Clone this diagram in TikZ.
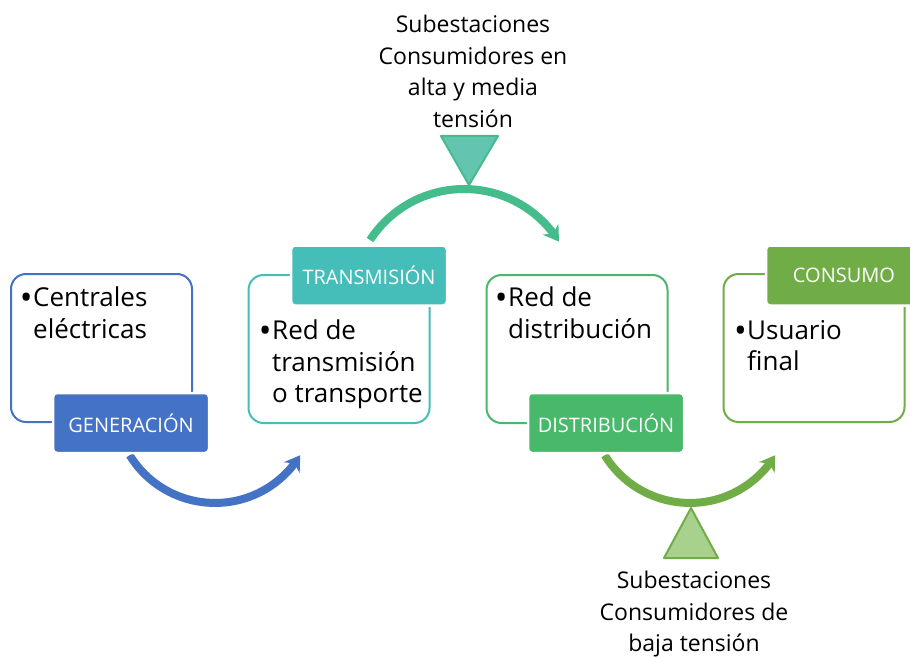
\documentclass[tikz,border=0pt]{standalone}
\usepackage{fontspec}
\setmainfont{Open Sans}
\usetikzlibrary{arrows.meta,bending}
\definecolor{gblue}{HTML}{4472C4}
\definecolor{tealH}{HTML}{45BDB8}
\definecolor{arcTeal}{HTML}{45BC8B}
\definecolor{triTeal}{HTML}{63C5AF}
\definecolor{dgreen}{HTML}{48B86A}
\definecolor{lgreen}{HTML}{70AD47}
\definecolor{triGreen}{HTML}{A9D18E}
\newcommand{\bul}{\llap{\raisebox{-3pt}{\scalebox{1.3}{•}}\hspace{0.5pt}}}
\begin{document}
\begin{tikzpicture}[x=1pt,y=-1pt,
  outl/.style={draw=#1, line width=2pt, rounded corners=15pt, minimum width=181pt, minimum height=148pt, inner sep=0pt},
  hdr/.style={fill=#1, draw=white, line width=2.5pt, rounded corners=4pt, minimum width=156pt, minimum height=60pt, text=white, font=\fontsize{20}{24}\selectfont, inner sep=0pt},
  body/.style={anchor=north west, align=left, inner sep=0pt, font=\fontsize{26}{31.5}\selectfont},
  flow/.style={line width=8pt, draw=#1, -{Stealth[length=15pt,width=19pt,inset=5pt]}},
  sub/.style={anchor=north, align=center, inner sep=0pt, font=\fontsize{23}{31.5}\selectfont},
  tri/.style={draw=#1, line width=2pt, line join=round}
]
\clip (0,0) rectangle (910,658);
\fill[white] (0,0) rectangle (910,658);

% outline boxes
\node[outl=gblue]  (b1) at (101.5,348) {};
\node[outl=tealH]  (b2) at (339,349) {};
\node[outl=dgreen] (b3) at (577,349) {};
\node[outl=lgreen] (b4) at (814,348) {};

% body texts
\node[body] (t1) at (33,287) {\bul Centrales\\eléctricas};
\node[body] (t2) at (272,320) {\bul Red de\\transmisión\\o transporte};
\node[body] (t3) at (508,287) {\bul Red de\\distribución};
\node[body] (t4) at (747,320) {\bul Usuario\\final};

% arcs
\coordinate (a1s) at (129.7,455.2);
\coordinate (a2s) at (370.1,240.0);
\coordinate (a3s) at (604.7,455.2);
\draw[flow=gblue] (a1s) arc[start angle=148.5, end angle=31.5, radius=100];
\draw[flow=arcTeal] (a2s) arc[start angle=-147, end angle=-32, radius=112];
\draw[flow=lgreen] (a3s) arc[start angle=148.5, end angle=31.5, radius=100];

% headers
\node[hdr=gblue]  (h1) at (131,423) {GENERACIÓN};
\node[hdr=tealH]  (h2) at (369,275.5) {TRANSMISIÓN};
\node[hdr=dgreen] (h3) at (606,423) {DISTRIBUCIÓN};
\node[hdr=lgreen] (h4) at (844,275.5) {CONSUMO};

% triangles
\draw[tri=arcTeal, fill=triTeal] (441,136) -- (498,136) -- (469,185) -- cycle;
\draw[tri=lgreen, fill=triGreen] (664,558) -- (718,558) -- (691,508) -- cycle;

% side labels
\node[sub] (s1) at (473,15) {Subestaciones\\Consumidores en\\alta y media\\tensión};
\node[sub] (s2) at (694,571) {Subestaciones\\Consumidores de\\baja tensión};
\end{tikzpicture}
\end{document}
